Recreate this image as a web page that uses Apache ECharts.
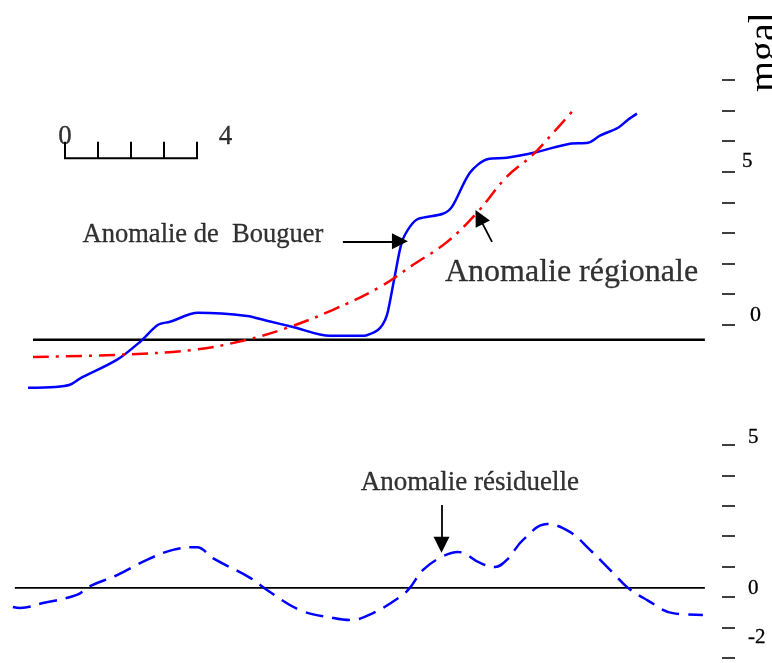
<!DOCTYPE html>
<html>
<head>
<meta charset="utf-8">
<script src="https://cdn.jsdelivr.net/npm/echarts@6/dist/echarts.min.js"></script>
<style>
  html, body { margin: 0; padding: 0; background: #fff; }
  #chart { width: 772px; height: 663px; }
</style>
</head>
<body>
<div id="chart"></div>
<script>
// Distance along the profile (km) and gravity anomaly (mGal)
const bouguerKm   = [-1.12, -0.30, 0.15, 0.45, 1.58, 2.27, 2.82, 3.18, 4.03, 5.52, 6.12, 6.91, 8.03, 9.03, 9.39, 9.55, 9.70, 9.79, 10.00, 10.21, 10.45, 10.70, 11.45, 11.73, 12.27, 12.82, 13.39, 14.30, 15.30, 15.85, 16.21, 16.76, 17.06, 17.33];
const bouguerMgal = [-2.06, -2.03, -1.96, -1.76, -1.14, -0.56, 0.00, 0.10, 0.39, 0.29, 0.13, -0.07, -0.36, -0.36, -0.23, -0.10, 0.16, 0.46, 1.63, 2.71, 3.20, 3.46, 3.63, 3.86, 4.97, 5.42, 5.46, 5.65, 5.92, 5.95, 6.18, 6.44, 6.70, 6.90];

const regionalKm   = [-0.97, 1.58, 3.88, 5.39, 6.73, 8.12, 9.55, 10.55, 11.58, 12.48, 13.39, 14.18, 14.79, 15.36];
const regionalMgal = [-1.05, -0.98, -0.82, -0.52, -0.10, 0.49, 1.24, 1.96, 2.71, 3.66, 4.84, 5.56, 6.27, 6.96];

const residualKm   = [-1.58, -1.36, -0.67, 0.36, 0.76, 1.58, 2.48, 3.27, 4.00, 4.48, 5.61, 6.12, 7.12, 8.12, 8.64, 9.33, 10.15, 10.45, 10.85, 11.42, 11.91, 12.58, 13.03, 13.39, 13.88, 14.61, 15.30, 15.91, 16.61, 17.06, 17.64, 18.42, 19.33];
const residualMgal = [-0.33, -0.36, -0.20, 0.07, 0.36, 0.72, 1.22, 1.55, 1.64, 1.28, 0.63, 0.23, -0.43, -0.69, -0.76, -0.53, 0.00, 0.30, 0.89, 1.32, 1.48, 1.12, 0.99, 1.22, 1.88, 2.40, 2.14, 1.55, 0.79, 0.30, -0.10, -0.53, -0.59];

// Reference (horizontal) lines of each panel
const topBaseKm = [-0.97, 19.39];
const topBaseMgal = -0.49;
const bottomBaseKm = [-1.52, 19.39];
const bottomBaseMgal = 0.30;

// Distance scale bar, 0 to 4 km
const scaleKm = [0, 1, 2, 3, 4];
const scaleBase = 5.44;
const scaleTickTop = 5.98;

// Axis ticks and labels (mGal)
const topTicks = [0, 1, 2, 3, 4, 5, 6, 7, 8];
const topLabels = [0, 5];
const bottomTicks = [-2, -1, 0, 1, 2, 3, 4, 5];
const bottomLabels = [5, 0, -2];

const serif = '"Liberation Serif", "Times New Roman", serif';
const zip = (xs, ys) => xs.map((x, i) => [x, ys[i]]);

const scaleLine = [];
scaleKm.forEach((k, i) => {
  if (i > 0) scaleLine.push([k, scaleBase]);
  scaleLine.push([k, scaleTickTop]);
  if (i < scaleKm.length - 1) scaleLine.push([k, scaleBase]);
});

const arrowStyle = { color: '#000', width: 1.8, type: 'solid' };
function arrow(from, to) {
  return {
    silent: true,
    symbol: ['none', 'triangle'],
    symbolSize: 16,
    label: { show: false },
    emphasis: { disabled: true },
    lineStyle: arrowStyle,
    itemStyle: { color: '#000' },
    animation: false,
    data: [[{ coord: from }, { coord: to }]]
  };
}

function note(x, y, text, size) {
  return { value: [x, y], label: { formatter: text, fontSize: size } };
}

const chart = echarts.init(document.getElementById('chart'), null, { renderer: 'canvas' });

const xCommon = {
  type: 'value', min: -1.8, max: 19.6, show: false,
  splitLine: { show: false }
};

const labelInk = { color: '#000', textBorderColor: '#000', textBorderWidth: 0.3 };

const option = {
  animation: false,
  backgroundColor: '#fff',
  textStyle: { fontFamily: serif },
  grid: [
    { left: 5.6, right: 60.2, top: 80, height: 336.6 },
    { left: 5.6, right: 60.2, top: 445, height: 212.8 }
  ],
  xAxis: [
    Object.assign({ gridIndex: 0 }, xCommon),
    Object.assign({ gridIndex: 1 }, xCommon)
  ],
  yAxis: [
    {
      gridIndex: 0, type: 'value', position: 'right', offset: 10.2,
      min: -3, max: 8,
      splitLine: { show: false },
      axisLine: { show: false, onZero: false },
      axisTick: { show: true, length: 13, customValues: topTicks, lineStyle: { color: '#000', width: 1.5 } },
      axisLabel: {
        customValues: topLabels, margin: 20, color: '#000', fontFamily: serif, fontSize: 21,
        formatter: v => v === 0 ? '{z|0}' : '{f|' + v + '}',
        rich: {
          f: Object.assign({ fontFamily: serif, fontSize: 21, padding: [0, 0, 20, 0] }, labelInk),
          z: Object.assign({ fontFamily: serif, fontSize: 22, padding: [0, 0, 20, 8] }, labelInk)
        }
      }
    },
    {
      gridIndex: 1, type: 'value', position: 'right', offset: 10.2,
      min: -2, max: 5,
      splitLine: { show: false },
      axisLine: { show: false, onZero: false },
      axisTick: { show: true, length: 13, customValues: bottomTicks, lineStyle: { color: '#000', width: 1.5 } },
      axisLabel: {
        customValues: bottomLabels, margin: 26, color: '#000', fontFamily: serif, fontSize: 21,
        formatter: v => v === 5 ? '{a|5}' : (v === 0 ? '{b|0}' : '{c|-2}'),
        rich: {
          a: Object.assign({ fontFamily: serif, fontSize: 21, padding: [0, 0, 16, 0] }, labelInk),
          b: Object.assign({ fontFamily: serif, fontSize: 21, padding: [0, 0, 18, 0] }, labelInk),
          c: Object.assign({ fontFamily: serif, fontSize: 21, padding: [0, 0, 40, 0] }, labelInk)
        }
      }
    }
  ],
  graphic: [
    {
      type: 'text', x: 765, y: 92, rotation: Math.PI / 2, silent: true,
      style: { text: 'mgal', font: '40px ' + serif, fill: '#000', textAlign: 'left', textVerticalAlign: 'middle' }
    }
  ],
  series: [
    {
      name: 'Référence', type: 'line', xAxisIndex: 0, yAxisIndex: 0,
      data: topBaseKm.map(k => [k, topBaseMgal]),
      symbol: 'none', silent: true,
      lineStyle: { color: '#000', width: 2.5 }
    },
    {
      name: 'Anomalie de Bouguer', type: 'line', xAxisIndex: 0, yAxisIndex: 0,
      data: zip(bouguerKm, bouguerMgal),
      symbol: 'none', smooth: 0.3, silent: true,
      lineStyle: { color: '#0000ff', width: 2.5 },
      markLine: arrow([8.42, 2.73], [10.15, 2.73])
    },
    {
      name: 'Anomalie régionale', type: 'line', xAxisIndex: 0, yAxisIndex: 0,
      data: zip(regionalKm, regionalMgal),
      symbol: 'none', smooth: 0.4, silent: true,
      lineStyle: { color: '#ff0000', width: 2.5, type: [16, 7, 3, 7] },
      markLine: arrow([12.94, 2.71], [12.55, 3.52])
    },
    {
      name: 'Échelle', type: 'line', xAxisIndex: 0, yAxisIndex: 0,
      data: scaleLine, symbol: 'none', silent: true,
      lineStyle: { color: '#000', width: 2, cap: 'butt', join: 'miter' }
    },
    {
      name: 'Textes', type: 'scatter', xAxisIndex: 0, yAxisIndex: 0,
      symbolSize: 1, silent: true,
      itemStyle: { color: 'rgba(0,0,0,0)' },
      label: Object.assign({ show: true, position: 'inside', fontFamily: serif }, labelInk),
      data: [
        note(4.18, 2.94, 'Anomalie de  Bouguer', 26.5),
        note(15.35, 1.70, 'Anomalie régionale', 32),
        note(0, 6.13, '0', 27),
        note(4.86, 6.13, '4', 27)
      ]
    },
    {
      name: 'Référence résiduelle', type: 'line', xAxisIndex: 1, yAxisIndex: 1,
      data: bottomBaseKm.map(k => [k, bottomBaseMgal]),
      symbol: 'none', silent: true,
      lineStyle: { color: '#000', width: 1.8 }
    },
    {
      name: 'Anomalie résiduelle', type: 'line', xAxisIndex: 1, yAxisIndex: 1,
      data: zip(residualKm, residualMgal),
      symbol: 'none', smooth: 0.4, silent: true,
      lineStyle: { color: '#0000ff', width: 2.5, type: [18, 9] },
      markLine: arrow([11.41, 3.03], [11.41, 1.72])
    },
    {
      name: 'Textes résiduelle', type: 'scatter', xAxisIndex: 1, yAxisIndex: 1,
      symbolSize: 1, silent: true,
      itemStyle: { color: 'rgba(0,0,0,0)' },
      label: Object.assign({ show: true, position: 'inside', fontFamily: serif }, labelInk),
      data: [
        note(12.27, 3.75, 'Anomalie résiduelle', 27)
      ]
    }
  ]
};

chart.setOption(option);
</script>
</body>
</html>
